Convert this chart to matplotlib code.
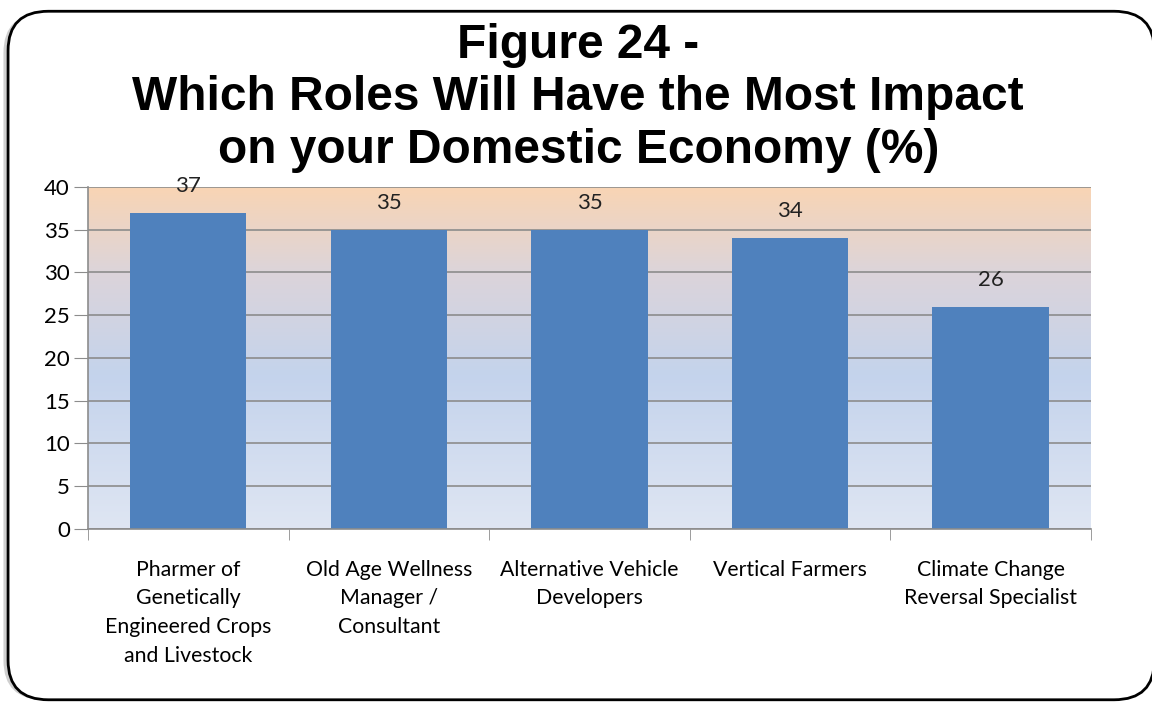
import numpy as np
import matplotlib.pyplot as plt
from matplotlib.colors import LinearSegmentedColormap
from matplotlib.patches import FancyBboxPatch

roles = ["Pharmer of\nGenetically\nEngineered Crops\nand Livestock",
         "Old Age Wellness\nManager /\nConsultant",
         "Alternative Vehicle\nDevelopers",
         "Vertical Farmers",
         "Climate Change\nReversal Specialist"]
percent = [37, 35, 35, 34, 26]
title = "Figure 24 -\nWhich Roles Will Have the Most Impact\non your Domestic Economy (%)"

fig = plt.figure(figsize=(11.52, 7.04), dpi=100)

# rounded frame round the whole chart, with a soft shadow on the left
shadow = FancyBboxPatch((0.003, 0.006), 0.999, 0.975, boxstyle="round,pad=0,rounding_size=0.035",
                        transform=fig.transFigure, facecolor="#a0a0a0", edgecolor="none",
                        alpha=0.5, zorder=0, mutation_aspect=1.6)
frame = FancyBboxPatch((0.007, 0.006), 0.995, 0.978, boxstyle="round,pad=0,rounding_size=0.035",
                       transform=fig.transFigure, facecolor="white", edgecolor="black",
                       linewidth=2, zorder=0.5, mutation_aspect=1.6)
fig.patches.extend([shadow, frame])

ax = fig.add_axes([0.0764, 0.2486, 0.8706, 0.4858])
ax.set_zorder(2)
ax.set_facecolor("none")

x = np.arange(len(roles))
ax.set_xlim(-0.5, len(roles) - 0.5)
ax.set_ylim(0, 40)

# gradient background: peach at top fading to pale blue
cmap = LinearSegmentedColormap.from_list("bg", [(0, "#dfe6f3"), (0.45, "#c4d3ec"),
                                               (0.75, "#dcd4da"), (1, "#f9d5b4")])
grad = np.linspace(0, 1, 256).reshape(-1, 1)
ax.imshow(grad, extent=(-0.5, len(roles) - 0.5, 0, 40), origin="lower", aspect="auto",
          cmap=cmap, zorder=0)

ax.yaxis.grid(True, color="#8c8c8c", linewidth=1.2, zorder=1)
ax.set_axisbelow(True)
bars = ax.bar(x, percent, width=0.58, color="#4f81bd", zorder=2)

for b, v in zip(bars, percent):
    ax.text(b.get_x() + b.get_width() / 2, v + 2.0, str(v), ha="center", va="bottom",
            fontsize=16, family="Lato", color="#222222", zorder=3)

ax.set_yticks(range(0, 41, 5))
ax.tick_params(axis="y", labelsize=16, length=10, color="#8c8c8c", pad=3)
for lab in ax.get_yticklabels():
    lab.set_family("Lato")

ax.set_xticks(x)
ax.set_xticklabels(roles, fontsize=15.3, family="Lato", linespacing=1.55, va="top")
ax.tick_params(axis="x", length=0, pad=22)
ax.set_xticks(np.arange(-0.5, len(roles)), minor=True)
ax.tick_params(axis="x", which="minor", length=8, color="#8c8c8c")

for s in ["top", "right"]:
    ax.spines[s].set_visible(False)
for s in ["left", "bottom"]:
    ax.spines[s].set_color("#8c8c8c")
    ax.spines[s].set_linewidth(1.2)

fig.text(0.502, 0.968, title, ha="center", va="top", fontsize=34.5, fontweight="bold",
         family="Liberation Sans", linespacing=1.22, zorder=3)

fig.savefig("out.png", dpi=100)
